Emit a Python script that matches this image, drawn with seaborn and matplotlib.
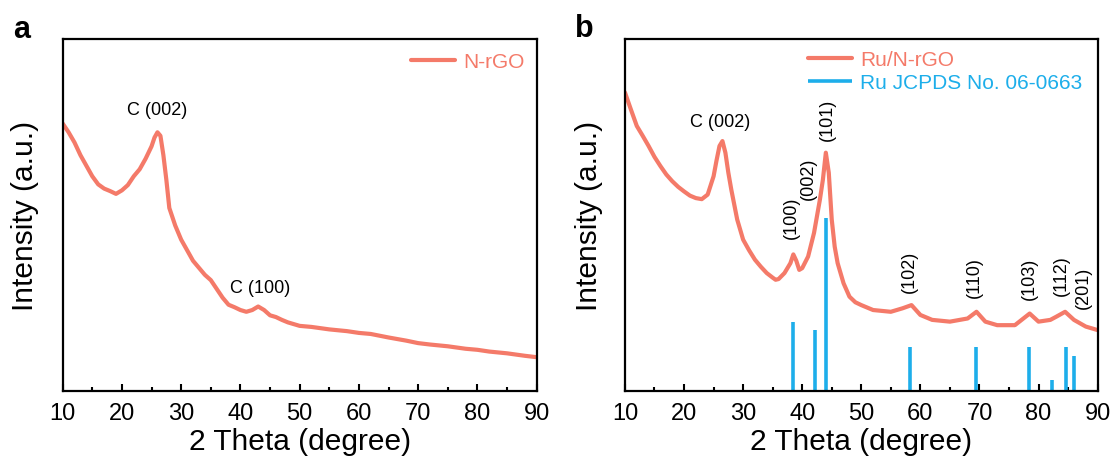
import numpy as np
import pandas as pd
import matplotlib
matplotlib.use("Agg")
import matplotlib.pyplot as plt
import seaborn as sns
from matplotlib.ticker import MultipleLocator

# ---------------- data ----------------
# Panel a: N-rGO XRD pattern (relative intensity)
theta_a = [10, 11, 12, 13, 14, 15, 16, 17, 18, 19, 20, 21, 22, 23, 24, 25, 25.5, 26, 26.5,
           27, 27.5, 28, 29, 30, 31, 32, 33, 34, 35, 36, 37, 38, 39, 40, 41, 42, 43, 44,
           45, 46, 47, 48, 50, 52, 55, 58, 60, 62, 65, 68, 70, 72, 75, 78, 80, 82, 85, 88, 90]
inten_a = [76, 73.5, 70.6, 67, 64, 61, 58.7, 57.5, 56.8, 56, 57, 58.5, 61, 63, 66, 69.5, 72, 73.5, 72.5,
           67, 60, 52, 47, 43, 40, 37, 35, 33, 31.5, 29, 26.5, 24.5, 23.8, 23, 22.5, 23, 24, 23,
           21.5, 21, 20.2, 19.5, 18.5, 18.2, 17.5, 17, 16.5, 16.2, 15.2, 14.3, 13.6, 13.2, 12.7, 12, 11.7, 11.2, 10.7, 10, 9.6]

# Panel b: Ru/N-rGO XRD pattern
theta_b = [10, 11, 12, 13, 14, 15, 16, 17, 18, 19, 20, 21, 22, 23, 24, 25, 25.5, 26, 26.5, 27, 27.5,
           28, 29, 30, 31, 32, 33, 34, 35, 35.5, 36, 37, 38, 38.5, 39, 39.5, 40, 41, 42, 43, 43.5,
           44, 44.5, 45, 45.5, 46, 47, 48, 49, 50, 52, 55, 57, 58.5, 60, 62, 65, 68, 69.5, 71, 73,
           76, 78.5, 80, 82, 83, 84.5, 86, 88, 90]
inten_b = [84.8, 80, 75.3, 72.5, 69.6, 66.5, 63.9, 61.5, 59.6, 58, 56.7, 55.5, 54.8, 54.5, 55.8, 61, 65.5, 69.6, 71, 67.7, 62,
           57.2, 48.7, 43, 40, 37.3, 35.3, 33.5, 32.2, 31.6, 31.8, 33.5, 36.3, 38.8, 37, 34.4, 34.9, 38.2, 44.9, 54.4, 60,
           67.7, 62, 48.7, 41, 36.3, 30.6, 26.8, 25.2, 24.4, 23, 22.5, 23.5, 24.4, 21.6, 20.2, 19.7, 20.6, 22.5, 19.7, 18.7,
           18.7, 22, 19.7, 20.2, 21.1, 22.5, 20.2, 18.3, 17.3]

# Ru reference (JCPDS No. 06-0663) stick positions and heights
ru_pos = [38.4, 42.2, 44.0, 58.3, 69.4, 78.4, 82.2, 84.7, 86.0]
ru_height = [19.7, 17.3, 49.1, 12.4, 12.4, 12.4, 3.2, 12.4, 9.9]

# peak annotations
ann_a_text = ["C (002)", "C (100)"]
ann_a_x = [25.9, 43.3]
ann_a_y = [80, 29.5]

ann_b_text = ["(100)", "(002)", "(101)", "(102)", "(110)", "(103)", "(112)", "(201)"]
ann_b_x = [38.2, 41.1, 44.2, 58.1, 69.2, 78.4, 83.9, 87.6]
ann_b_y = [49.6, 60.5, 77.4, 34.2, 32.5, 32.0, 33.0, 29.7]

xticks = [10, 20, 30, 40, 50, 60, 70, 80, 90]

# ---------------- style ----------------
sns.set_theme(style="white")
plt.rcParams['font.family'] = ['Liberation Sans', 'DejaVu Sans']
plt.rcParams['text.color'] = 'black'
plt.rcParams['axes.labelcolor'] = 'black'
plt.rcParams['xtick.color'] = 'black'
plt.rcParams['ytick.color'] = 'black'

RED = "#F47A69"
BLUE = "#1DAEEA"

fig = plt.figure(figsize=(11.15, 4.64), dpi=100)
ax_a = fig.add_axes([0.0562, 0.1552, 0.4251, 0.7586])
ax_b = fig.add_axes([0.5605, 0.1552, 0.4239, 0.7586])


def style_axes(ax, label_x):
    ax.set_xlim(10, 90)
    ax.set_ylim(0, 100)
    ax.set_xticks(xticks)
    ax.xaxis.set_minor_locator(MultipleLocator(5))
    ax.set_yticks([])
    ax.tick_params(axis='x', which='major', direction='in', length=5, width=1.5,
                   labelsize=17, pad=8, bottom=True, top=False, colors='black')
    ax.tick_params(axis='x', which='minor', direction='in', length=3, width=1.5,
                   bottom=True, top=False, colors='black')
    for s in ax.spines.values():
        s.set_visible(True)
        s.set_color('black')
        s.set_linewidth(1.6)
    ax.set_xlabel("2 Theta (degree)", fontsize=21.5, labelpad=2, color='black')
    ax.set_ylabel("Intensity (a.u.)", fontsize=21.5, color='black')
    ax.yaxis.set_label_coords(label_x, 0.5)


# ---- panel a ----
df_a = pd.DataFrame({"theta": theta_a, "intensity": inten_a})
sns.lineplot(data=df_a, x="theta", y="intensity", ax=ax_a, color=RED, linewidth=3,
             label="N-rGO")
for t, x, y in zip(ann_a_text, ann_a_x, ann_a_y):
    ax_a.text(x, y, t, fontsize=13, ha='center', va='center', color='black')
style_axes(ax_a, -0.050)
leg = ax_a.legend(loc='center left', bbox_to_anchor=(0.735, 0.935), frameon=False,
                  fontsize=15, handlelength=2.1, handletextpad=0.4,
                  borderaxespad=0, borderpad=0)
for txt in leg.get_texts():
    txt.set_color(RED)

# ---- panel b ----
df_b = pd.DataFrame({"theta": theta_b, "intensity": inten_b})
sns.lineplot(data=df_b, x="theta", y="intensity", ax=ax_b, color=RED, linewidth=3,
             label="Ru/N-rGO")
ax_b.vlines(ru_pos, 0, ru_height, color=BLUE, linewidth=2.6, label="Ru JCPDS No. 06-0663")
ax_b.text(26.1, 76.7, "C (002)", fontsize=13, ha='center', va='center', color='black')
for t, x, y in zip(ann_b_text, ann_b_x, ann_b_y):
    ax_b.text(x, y, t, fontsize=13, ha='center', va='center', rotation=90, color='black')
style_axes(ax_b, -0.047)
leg_b = ax_b.legend(loc='upper left', bbox_to_anchor=(0.387, 0.968), frameon=False,
                    fontsize=15, handlelength=2.1, handletextpad=0.4, labelspacing=0.2,
                    borderaxespad=0, borderpad=0)
for txt, c in zip(leg_b.get_texts(), [RED, BLUE]):
    txt.set_color(c)

# panel letters
fig.text(13 / 1115, 1 - 38.5 / 464, "a", fontsize=22, fontweight='bold', ha='left',
         va='baseline', color='black')
fig.text(575 / 1115, 1 - 37.5 / 464, "b", fontsize=22, fontweight='bold', ha='left',
         va='baseline', color='black')

fig.savefig("out.png", dpi=100)
